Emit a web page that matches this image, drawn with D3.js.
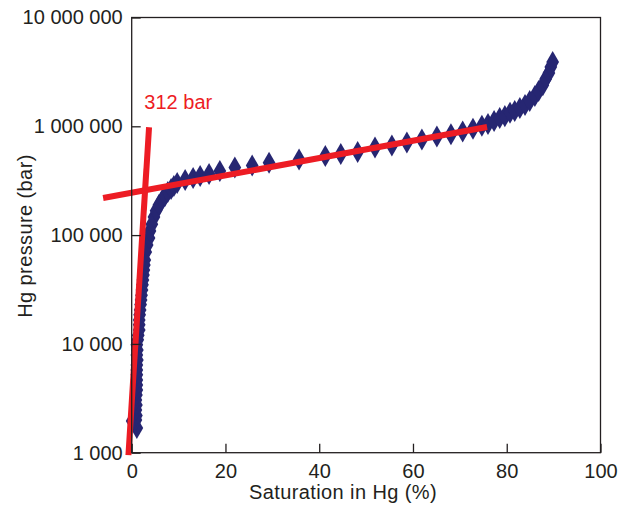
<!DOCTYPE html>
<html>
<head>
<meta charset="utf-8">
<script src="https://cdn.jsdelivr.net/npm/d3@7"></script>
<style>
  body { margin: 0; background: #fff; }
  text { font-family: "Liberation Sans", Arial, Helvetica, sans-serif; }
</style>
</head>
<body>
<svg id="chart"></svg>
<script>
const width = 634, height = 510;
const margin = {top: 17.5, right: 33.5, bottom: 57.3, left: 131.7};

// measured points: Hg saturation (%) and injection pressure (bar)
const saturation = [0.1, 1.1, 0.9, 1.0, 0.9, 1.0, 0.9, 1.0, 1.1, 1.1, 1.1, 1.1, 1.1, 1.1, 1.2, 1.1, 1.2, 1.1, 1.3, 1.4,
  1.6, 1.6, 1.6, 1.7, 1.8, 1.9, 2.0, 2.1, 2.2, 2.3, 2.4, 2.5, 2.6, 2.7, 2.8, 3.0,
  3.3, 3.7, 3.9, 4.3, 4.75, 5.2, 5.8, 6.5, 7.1, 7.7, 8.4, 9.0, 9.7, 11.4, 13.1, 14.6, 16.5, 18.8, 22.0, 25.7,
  29.3, 35.7, 41.3, 44.6, 48.2, 51.9, 55.5, 58.7, 61.9, 65.1, 68.1, 70.6, 72.8, 74.7, 76.0, 77.3, 78.5, 79.6, 80.7, 81.7,
  82.8, 83.9, 84.9, 86.0, 86.8, 87.7, 88.3, 89.0, 89.4, 89.8];
const pressure = [1960, 1690, 2000, 2200, 2470, 2750, 3050, 3400, 3770, 4200, 4650, 5200, 5750, 6400, 7110, 7900, 8780, 9800, 10900, 12000,
  13400, 15000, 16600, 18500, 20500, 23000, 25300, 28000, 31300, 35000, 38600, 43000, 47700, 53000, 59000, 70000,
  81100, 94000, 109000, 126000, 147000, 167000, 189000, 210000, 229000, 249000, 265000, 283000, 301000, 321000, 335000, 349000, 364000, 388000, 418000, 436000,
  463000, 495000, 533000, 556000, 580000, 640000, 665000, 710000, 755000, 805000, 845000, 895000, 950000, 1010000, 1050000, 1120000, 1190000, 1240000, 1330000, 1380000,
  1470000, 1570000, 1710000, 1900000, 2110000, 2390000, 2720000, 3090000, 3510000, 3900000];

// the two red fitted lines (end points)
const flatFitSat = [-6.1, 75.8];
const flatFitP = [219000, 986000];
const steepFitSat = [-0.7, 3.7];
const steepFitP = [950, 980000];

const xTicks = [0, 20, 40, 60, 80, 100];
const yTicks = [1e3, 1e4, 1e5, 1e6, 1e7];
const annotation = {sat: 2.7, p: 1.44e6, label: "312 bar"};

const navy = "#262672";
const red = "#ed1c24";
const ink = "#231f20";

let svg = d3.select("#chart")
    .attr("width", width)
    .attr("height", height);

let x = d3.scaleLinear().domain([0, 100]).range([margin.left, width - margin.right]);
let y = d3.scaleLog().domain([1e3, 1e7]).range([height - margin.bottom, margin.top]);

let fmt = d3.format(",d");
let tickText = d => fmt(d).replace(/,/g, "\u00a0");

// points
svg.append("g")
    .selectAll("path")
    .data(saturation.map((s, i) => [s, pressure[i]]))
    .enter()
    .append("path")
    .attr("d", d3.symbol(d3.symbolDiamond, 140))
    .attr("transform", d => `translate(${x(d[0])},${y(d[1])})`)
    .style("fill", navy);

// fitted lines
let fits = [[flatFitSat, flatFitP], [steepFitSat, steepFitP]];
fits.forEach(f => {
    svg.append("line")
        .attr("x1", x(f[0][0])).attr("y1", y(f[1][0]))
        .attr("x2", x(f[0][1])).attr("y2", y(f[1][1]))
        .style("stroke", red)
        .style("stroke-width", 6);
});

// frame
svg.append("rect")
    .attr("x", margin.left)
    .attr("y", margin.top)
    .attr("width", width - margin.left - margin.right)
    .attr("height", height - margin.top - margin.bottom)
    .style("fill", "none")
    .style("stroke", ink)
    .style("stroke-width", 1.3);

let x_axis = svg.append("g")
    .attr("transform", `translate(0,${height - margin.bottom})`)
    .call(d3.axisBottom(x).tickValues(xTicks).tickSize(-9).tickPadding(11).tickFormat(d3.format("d")));

let y_axis = svg.append("g")
    .attr("transform", `translate(${margin.left},0)`)
    .call(d3.axisLeft(y).tickValues(yTicks).tickSize(-9).tickPadding(9).tickFormat(tickText));

[x_axis, y_axis].forEach(a => {
    a.select(".domain").remove();
    a.selectAll("line").style("stroke", ink).style("stroke-width", 1.3);
    a.selectAll("text")
        .style("fill", ink)
        .style("font-size", "20px")
        .style("font-family", "'Liberation Sans', Arial, sans-serif");
});

// axis titles
svg.append("text")
    .attr("x", 343)
    .attr("y", 499)
    .style("text-anchor", "middle")
    .style("font-size", "20px")
    .style("letter-spacing", "0.4px")
    .style("fill", ink)
    .text("Saturation in Hg (%)");

svg.append("text")
    .attr("transform", `translate(32,236) rotate(-90)`)
    .style("text-anchor", "middle")
    .style("font-size", "20px")
    .style("letter-spacing", "0.4px")
    .style("fill", ink)
    .text("Hg pressure (bar)");

svg.append("text")
    .attr("x", x(annotation.sat))
    .attr("y", y(annotation.p))
    .style("font-size", "20px")
    .style("fill", red)
    .text(annotation.label);
</script>
</body>
</html>
